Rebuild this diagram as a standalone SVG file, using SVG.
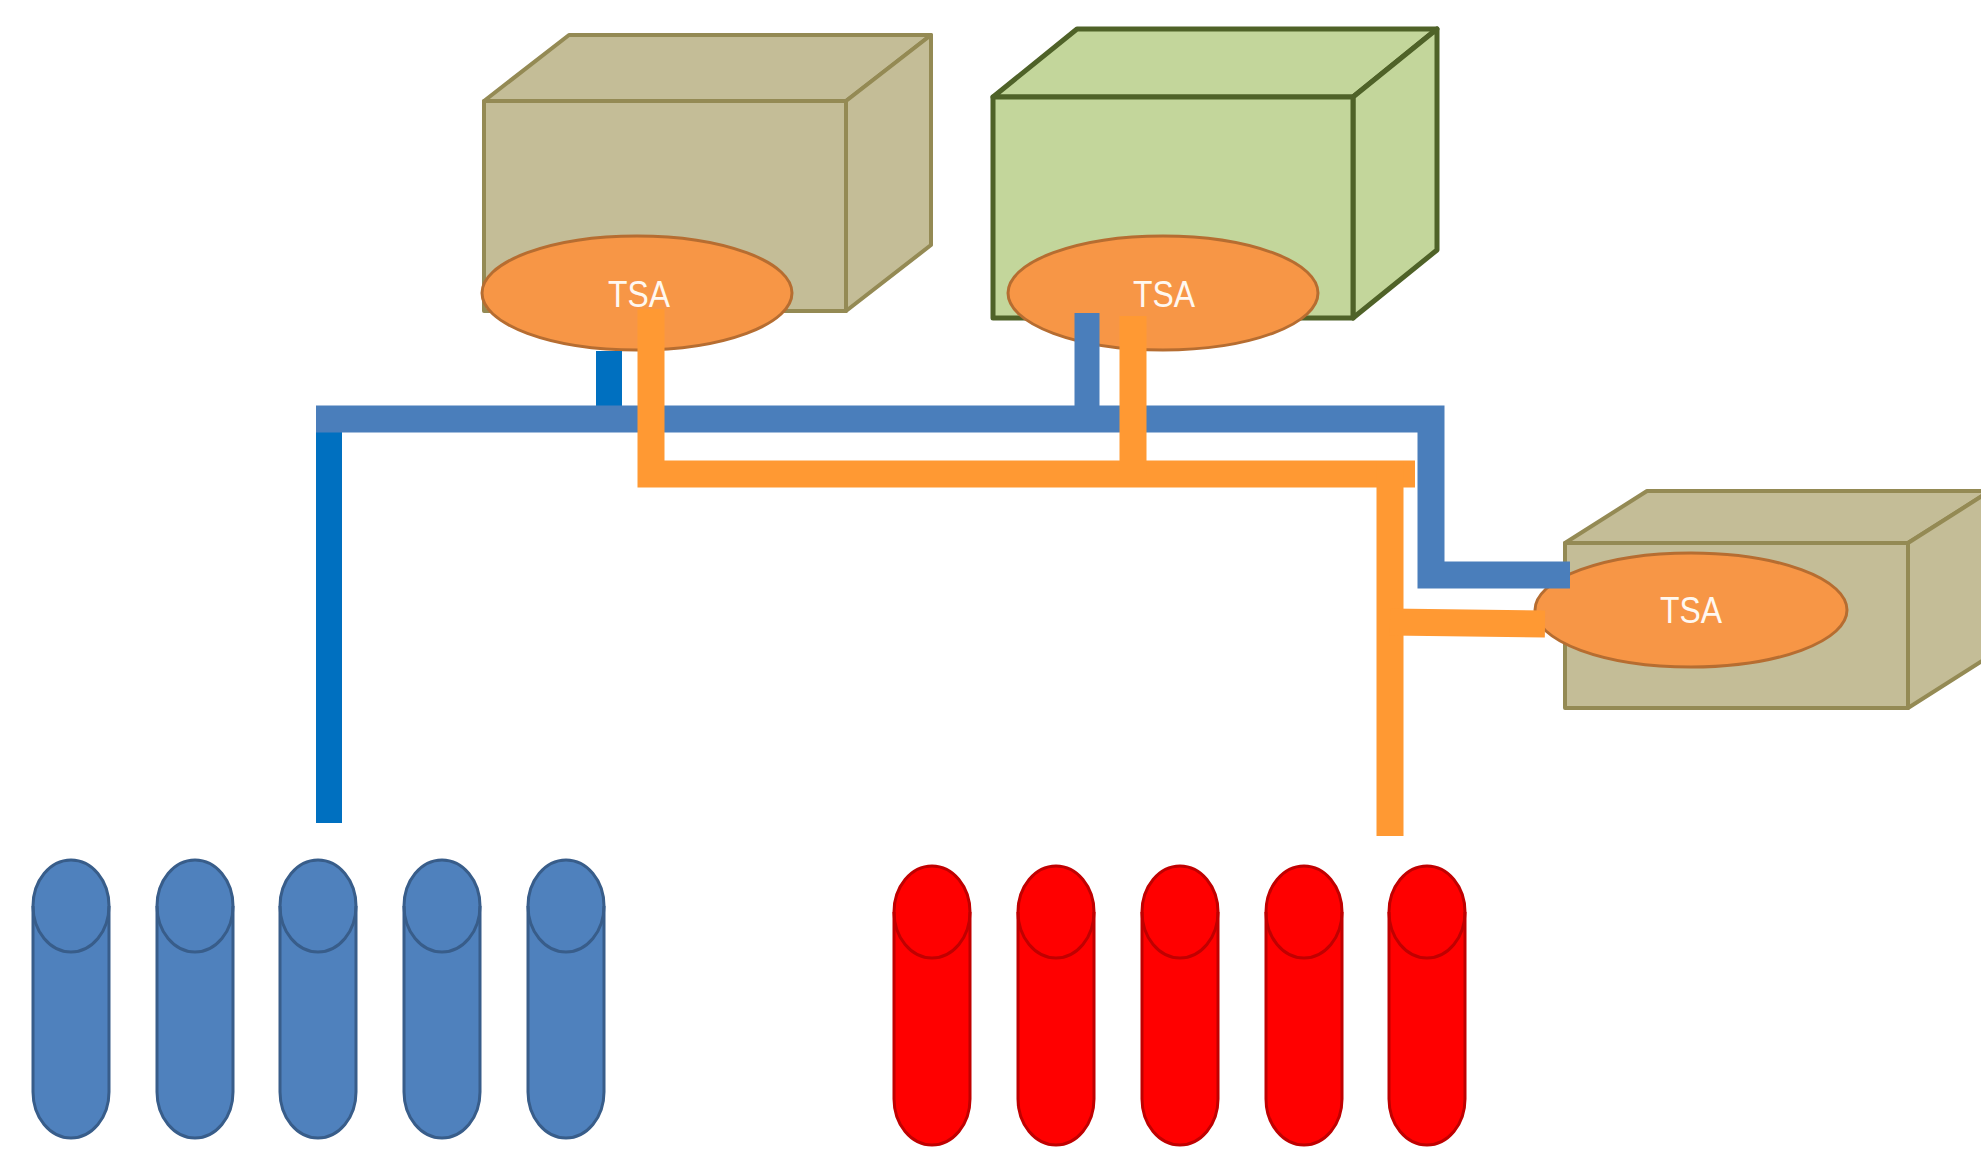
<svg xmlns="http://www.w3.org/2000/svg" xmlns:xlink="http://www.w3.org/1999/xlink" width="1981" height="1152" viewBox="0 0 1981 1152">
<style>
.tan{fill:#C4BD97;stroke:#948A54;stroke-width:4;stroke-linejoin:round}
.green{fill:#C3D69B;stroke:#4F6228;stroke-width:5;stroke-linejoin:round}
.tsa{fill:#F79646;stroke:#B66D31;stroke-width:3}
.lbl{fill:#FFF8F0;font-family:"Liberation Sans",Arial,sans-serif;font-size:36px;text-anchor:middle}
.cylB{fill:#4F81BD;stroke:#385D8A;stroke-width:3}
.cylR{fill:#FF0000;stroke:#C00000;stroke-width:3}
.cap{fill:none}
.steel{fill:none;stroke:#4A7EBB;stroke-width:27;stroke-linejoin:miter;stroke-linecap:butt}
.bright{fill:none;stroke:#0070C0;stroke-width:26;stroke-linecap:butt}
.orange{fill:none;stroke:#FF9933;stroke-width:27;stroke-linejoin:miter;stroke-linecap:butt}
</style>
<defs>
<g id="cylBlue">
<path class="cylB" d="M-38 908 A38 46 0 0 1 38 908 V1094 A38 46 0 0 1 -38 1094 Z"/>
<path class="cap" stroke="#385D8A" stroke-width="3" d="M-38 908 A38 46 0 0 0 38 908"/>
</g>
<g id="cylRed">
<path class="cylR" d="M-38 912 A38 46 0 0 1 38 912 V1099 A38 46 0 0 1 -38 1099 Z"/>
<path class="cap" stroke="#C00000" stroke-width="3" d="M-38 912 A38 46 0 0 0 38 912"/>
</g>
</defs>
<rect width="1981" height="1152" fill="#FFFFFF"/>

<g id="server1">
<path class="tan" d="M484 101 L569 35 L931 35 L846 101 Z"/>
<path class="tan" d="M846 101 L931 35 L931 245 L846 311 Z"/>
<rect class="tan" x="484" y="101" width="362" height="210"/>
<ellipse class="tsa" cx="637" cy="293" rx="155" ry="57"/>
<text class="lbl" x="639" y="307" textLength="62" lengthAdjust="spacingAndGlyphs">TSA</text>
</g>

<g id="server2">
<path class="green" d="M993 97 L1077 29 L1437 29 L1353 97 Z"/>
<path class="green" d="M1353 97 L1437 29 L1437 250 L1353 318 Z"/>
<rect class="green" x="993" y="97" width="360" height="221"/>
<ellipse class="tsa" cx="1163" cy="293" rx="155" ry="57"/>
<text class="lbl" x="1164" y="307" textLength="62" lengthAdjust="spacingAndGlyphs">TSA</text>
</g>

<g id="server3">
<path class="tan" d="M1565 543 L1647 491 L1990 491 L1908 543 Z"/>
<path class="tan" d="M1908 543 L1990 491 L1990 656 L1908 708 Z"/>
<rect class="tan" x="1565" y="543" width="343" height="165"/>
<ellipse class="tsa" cx="1691" cy="610" rx="156" ry="57"/>
<text class="lbl" x="1691" y="623" textLength="62" lengthAdjust="spacingAndGlyphs">TSA</text>
</g>

<g id="blueDisks">
<g id="blue1"><use xlink:href="#cylBlue" href="#cylBlue" transform="translate(71 -2)"/></g>
<g id="blue2"><use xlink:href="#cylBlue" href="#cylBlue" transform="translate(195 -2)"/></g>
<g id="blue3"><use xlink:href="#cylBlue" href="#cylBlue" transform="translate(318 -2)"/></g>
<g id="blue4"><use xlink:href="#cylBlue" href="#cylBlue" transform="translate(442 -2)"/></g>
<g id="blue5"><use xlink:href="#cylBlue" href="#cylBlue" transform="translate(566 -2)"/></g>
</g>

<g id="redDisks">
<g id="red1"><use xlink:href="#cylRed" href="#cylRed" transform="translate(932 0)"/></g>
<g id="red2"><use xlink:href="#cylRed" href="#cylRed" transform="translate(1056 0)"/></g>
<g id="red3"><use xlink:href="#cylRed" href="#cylRed" transform="translate(1180 0)"/></g>
<g id="red4"><use xlink:href="#cylRed" href="#cylRed" transform="translate(1304 0)"/></g>
<g id="red5"><use xlink:href="#cylRed" href="#cylRed" transform="translate(1427 0)"/></g>
</g>

<g id="connectors">
<line class="bright" x1="329" y1="425" x2="329" y2="823"/>
<line class="bright" x1="609" y1="351" x2="609" y2="412"/>
<line class="steel" x1="1087" y1="313" x2="1087" y2="412" style="stroke-width:25"/>
<path class="steel" d="M316 419 H1431 V575 H1570"/>
<path class="orange" d="M651 309 V474 H1415"/>
<line class="orange" x1="1133" y1="316" x2="1133" y2="474"/>
<line class="orange" x1="1390" y1="461" x2="1390" y2="836"/>
<line class="orange" x1="1390" y1="622" x2="1545" y2="624"/>
</g>
</svg>
